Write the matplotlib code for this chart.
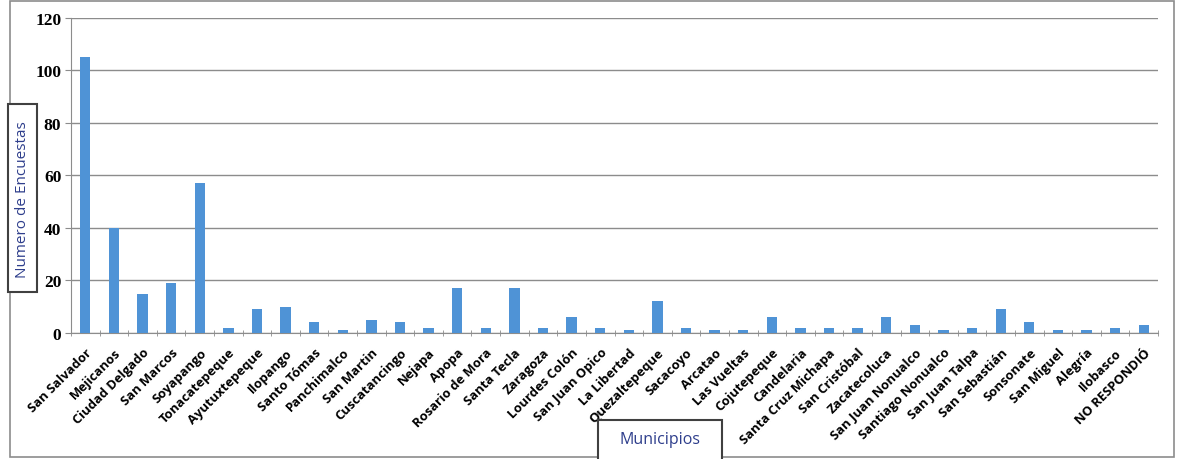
import numpy as np
import matplotlib.pyplot as plt
from matplotlib.patches import Rectangle

municipios = [
    "San Salvador", "Mejicanos", "Ciudad Delgado", "San Marcos", "Soyapango",
    "Tonacatepeque", "Ayutuxtepeque", "Ilopango", "Santo Tómas", "Panchimalco",
    "San Martin", "Cuscatancingo", "Nejapa", "Apopa", "Rosario de Mora",
    "Santa Tecla", "Zaragoza", "Lourdes Colón", "San Juan Opico", "La Libertad",
    "Quezaltepeque", "Sacacoyo", "Arcatao", "Las Vueltas", "Cojutepeque",
    "Candelaria", "Santa Cruz Michapa", "San Cristóbal", "Zacatecoluca",
    "San Juan Nonualco", "Santiago Nonualco", "San Juan Talpa", "San Sebastián",
    "Sonsonate", "San Miguel", "Alegría", "Ilobasco", "NO RESPONDIÓ",
]
encuestas = [
    105, 40, 15, 19, 57,
    2, 9, 10, 4, 1,
    5, 4, 2, 17, 2,
    17, 2, 6, 2, 1,
    12, 2, 1, 1, 6,
    2, 2, 2, 6,
    3, 1, 2, 9,
    4, 1, 1, 2, 3,
]
y_ticks = [0, 20, 40, 60, 80, 100, 120]

fig = plt.figure(figsize=(11.78, 4.6), dpi=100)
ax = fig.add_axes([0.0603, 0.274, 0.9227, 0.6847])

x = np.arange(len(municipios))
ax.bar(x, encuestas, width=0.36, color="#4F93D6", zorder=3)

ax.set_xlim(-0.5, len(municipios) - 0.5)
ax.set_ylim(0, 120)
ax.set_yticks(y_ticks)
ax.set_yticklabels([str(t) for t in y_ticks], fontfamily="Liberation Serif",
                   fontweight="bold", fontsize=12.5)
ax.yaxis.grid(True, color="#8c8c8c", linewidth=1.0, zorder=0)

ax.set_xticks(x)
ax.set_xticklabels(municipios, rotation=45, ha="right", rotation_mode="anchor",
                   fontfamily="Open Sans", fontweight="bold", fontsize=9.4)
ax.set_xticks(np.arange(-0.5, len(municipios)), minor=True)
ax.tick_params(axis="x", which="major", length=0, pad=9)
ax.tick_params(axis="x", which="minor", length=5, direction="inout", color="#8c8c8c")
ax.tick_params(axis="y", length=4, color="#8c8c8c", pad=3)

for side in ["top", "right"]:
    ax.spines[side].set_visible(False)
ax.spines["left"].set_color("#8c8c8c")
ax.spines["bottom"].set_color("#8c8c8c")

# chart border
fig.patches.append(Rectangle((10 / 1178, 2 / 460), 1164 / 1178, 456 / 460,
                             transform=fig.transFigure, fill=False,
                             edgecolor="#8c8c8c", linewidth=1.2))

# axis title boxes
fig.patches.append(Rectangle((8 / 1178, 1 - 293 / 460), 29 / 1178, 188 / 460,
                             transform=fig.transFigure, facecolor="white",
                             edgecolor="#404040", linewidth=1.5, zorder=5))
fig.text(22.5 / 1178, 1 - 200 / 460, "Numero de Encuestas", rotation=90,
         ha="center", va="center", fontsize=11, color="#2E3E8C",
         fontfamily="Open Sans", zorder=6)

fig.patches.append(Rectangle((598 / 1178, -5 / 460), 124 / 1178, 44 / 460,
                             transform=fig.transFigure, facecolor="white",
                             edgecolor="#404040", linewidth=1.5, zorder=5))
fig.text(660 / 1178, 1 - 440 / 460, "Municipios", ha="center", va="center",
         fontsize=11.5, color="#2E3E8C", fontfamily="Open Sans", zorder=6)

fig.savefig("out.png", dpi=100)
